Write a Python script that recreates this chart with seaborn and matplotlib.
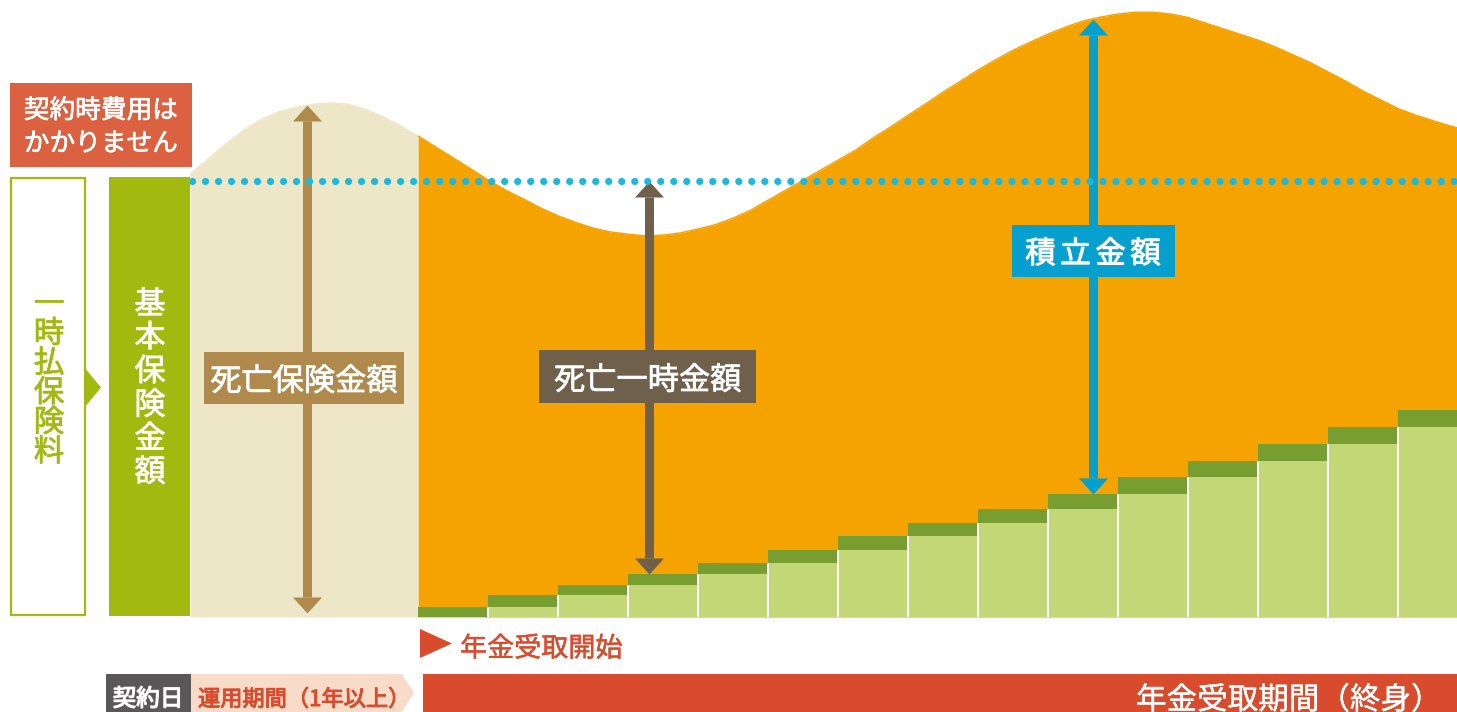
import numpy as np
import pandas as pd
import matplotlib
matplotlib.use("Agg")
import matplotlib.pyplot as plt
import matplotlib.patheffects as pe
from matplotlib.patches import Rectangle, Polygon
import seaborn as sns

# ---------------------------------------------------------------------------
# Values: amounts in % of the basic insured amount, time in years counted
# from the start of the annuity payments (negative = deferral period).
# ---------------------------------------------------------------------------
BASIC_AMOUNT = 100.0
CONTRACT_YEAR = -3.26
END_YEAR = 14.84

# death benefit during the deferral period
deferral_years = [-3.26, -3.0, -2.75, -2.5, -2.25, -2.0, -1.75, -1.5,
                  -1.25, -1.0, -0.75, -0.5, -0.25, 0.0]
deferral_value = [101.6, 105.0, 108.5, 111.6, 114.0, 115.8, 116.9, 117.6,
                  117.9, 117.6, 116.4, 114.7, 112.6, 110.2]

# accumulated reserve during the payout period
payout_years = [0.0, 0.25, 0.5, 0.75, 1.0, 1.25, 1.5, 1.75, 2.0, 2.25,
                2.5, 2.75, 3.0, 3.25, 3.5, 3.75, 4.0, 4.25, 4.5, 4.75,
                5.0, 5.25, 5.5, 5.75, 6.0, 6.25, 6.5, 6.75, 7.0, 7.25,
                7.5, 7.75, 8.0, 8.25, 8.5, 8.75, 9.0, 9.25, 9.5, 9.75,
                10.0, 10.25, 10.5, 10.75, 11.0, 11.25, 11.5, 11.75, 12.0,
                12.25, 12.5, 12.75, 13.0, 13.25, 13.5, 13.75, 14.0, 14.25,
                14.5, 14.75, 14.84]
payout_value = [110.3, 107.8, 105.3, 102.8, 100.2, 97.9, 95.9, 93.8, 92.0,
                90.5, 89.2, 88.3, 87.8, 87.4, 87.6, 88.1, 89.0, 90.0, 91.5,
                93.3, 95.6, 97.9, 100.2, 102.5, 104.8, 107.1, 109.9, 112.4,
                115.1, 117.7, 120.4, 122.9, 125.5, 127.8, 130.0, 131.9,
                133.7, 135.3, 136.7, 137.6, 138.3, 138.7, 138.7, 138.3,
                137.5, 136.2, 134.9, 133.6, 132.3, 130.7, 128.9, 127.1,
                125.0, 122.9, 120.6, 118.6, 116.6, 115.1, 113.8, 112.6,
                112.2]

# annuity received in total up to each payment year
annuity_year = list(range(15))
annuity_total = [2.3, 5.0, 7.3, 9.9, 12.4, 15.4, 18.6, 21.6, 24.8, 28.2,
                 32.1, 35.8, 39.7, 43.6, 47.5]

# where the three explanatory arrows stand
DEATH_BENEFIT_YEAR = -1.59
LUMP_SUM_YEAR, LUMP_SUM_BAR = 3.3, 3
RESERVE_YEAR, RESERVE_BAR = 9.64, 9

# colours
ORANGE = "#f4a300"
BEIGE = "#ede6c7"
DARK_GREEN = "#789d31"
LIGHT_GREEN = "#c4d776"
OLIVE = "#a2b90f"
CYAN = "#1cb9dc"
BLUE = "#05a0cd"
TAN = "#b08a4c"
BROWN = "#6f604b"
RED_BOX = "#dc6140"
RED = "#d84b2c"
GREY = "#595757"
PEACH = "#f9dbca"

# ---------------------------------------------------------------------------
sns.set_style("white")
plt.rcParams["font.family"] = ["Noto Sans CJK JP", "DejaVu Sans"]

W, H = 1457, 712
DPI = 100
fig = plt.figure(figsize=(W / DPI, H / DPI), dpi=DPI, facecolor="white")

# chart area: from the contract date to the right edge, baseline at y=617px
ax = fig.add_axes([190 / W, (H - 617) / H, (W - 190) / W, 617 / H])
ax.set_xlim(CONTRACT_YEAR, END_YEAR)
ax.set_ylim(0, 141.5)

ax.fill_between(deferral_years, 0, deferral_value, color=BEIGE, lw=0, zorder=1)
ax.fill_between(payout_years, 0, payout_value, color=ORANGE, lw=0, zorder=1)
sns.lineplot(x=deferral_years, y=deferral_value, color=BEIGE, lw=1, ax=ax, zorder=1)
sns.lineplot(x=payout_years, y=payout_value, color=ORANGE, lw=1, ax=ax, zorder=1)

bars = pd.DataFrame({"year": np.array(annuity_year) + 0.5,
                     "total": annuity_total})
bars["previous"] = bars["total"].shift(1).fillna(0.0)
sns.barplot(data=bars, x="year", y="total", native_scale=True, width=1,
            color=DARK_GREEN, saturation=1, errorbar=None, linewidth=0,
            ax=ax, zorder=2)
sns.barplot(data=bars, x="year", y="previous", native_scale=True, width=1,
            color=LIGHT_GREEN, saturation=1, errorbar=None, linewidth=0,
            ax=ax, zorder=3)
# thin white seams between the received-annuity columns
ax.vlines(bars["year"].iloc[1:] - 0.5, 0, bars["previous"].iloc[1:],
          color="white", lw=1.4, zorder=4)

ax.set_xlim(CONTRACT_YEAR, END_YEAR)
ax.set_ylim(0, 141.5)
ax.axis("off")

px_per_unit = ax.transData.transform((0, 1))[1] - ax.transData.transform((0, 0))[1]
HEAD_LEN_PX, HEAD_HALF_PX, SHAFT_PX = 16, 14.5, 9
head_up = [(-HEAD_HALF_PX, -HEAD_LEN_PX), (HEAD_HALF_PX, -HEAD_LEN_PX), (0, 0)]
head_dn = [(-HEAD_HALF_PX, HEAD_LEN_PX), (HEAD_HALF_PX, HEAD_LEN_PX), (0, 0)]
head_ms = 2 * HEAD_LEN_PX * 72 / DPI


def double_arrow(x, lo, hi, color):
    off = HEAD_LEN_PX / px_per_unit
    ax.plot([x, x], [lo + off, hi - off], color=color,
            lw=SHAFT_PX * 72 / DPI, solid_capstyle="butt", zorder=5)
    ax.plot([x], [hi], marker=head_up, ms=head_ms, mew=0, color=color,
            ls="none", zorder=5)
    ax.plot([x], [lo], marker=head_dn, ms=head_ms, mew=0, color=color,
            ls="none", zorder=5)


death_top = np.interp(DEATH_BENEFIT_YEAR, deferral_years, deferral_value)
reserve_top = np.interp(RESERVE_YEAR, payout_years, payout_value)
double_arrow(DEATH_BENEFIT_YEAR, 1.0, death_top, TAN)
double_arrow(LUMP_SUM_YEAR, annuity_total[LUMP_SUM_BAR], BASIC_AMOUNT, BROWN)
double_arrow(RESERVE_YEAR, annuity_total[RESERVE_BAR], reserve_top, BLUE)

# basic insured amount as a dotted line
ax.plot([CONTRACT_YEAR + 0.03, END_YEAR], [BASIC_AMOUNT, BASIC_AMOUNT],
        color=CYAN, lw=5.2, ls=(0, (0.001, 1.8)), dash_capstyle="round",
        zorder=6)

# ---------------------------------------------------------------------------
# overlay in pixel units for the boxes and labels around the chart
ov = fig.add_axes([0, 0, 1, 1], zorder=10)
ov.set_xlim(0, W)
ov.set_ylim(H, 0)
ov.axis("off")


def arrow_px(year):
    return ax.transData.transform((year, 0))[0]


def box(x0, y0, x1, y1, color, **kw):
    ov.add_patch(Rectangle((x0, y0), x1 - x0, y1 - y0, facecolor=color,
                           edgecolor="none", **kw))


def label(x, y, s, size, color, ha="center", stroke=0.5, **kw):
    # a thin stroke in the text colour gives a medium weight
    effects = [pe.withStroke(linewidth=stroke, foreground=color)] if stroke else []
    ov.text(x, y, s, fontsize=size, color=color, ha=ha, va="center_baseline",
            path_effects=effects, **kw)


def spaced(cx, cy, s, pitch, size, color, vertical=False, stroke=0.5):
    n = len(s)
    for i, ch in enumerate(s):
        off = (i - (n - 1) / 2) * pitch
        if vertical:
            label(cx, cy + off, ch, size, color, stroke=stroke)
        else:
            label(cx + off, cy, ch, size, color, stroke=stroke)


# labels sitting on the arrows
cx = arrow_px(DEATH_BENEFIT_YEAR) - 3
box(cx - 100, 352, cx + 100, 404, TAN)
label(cx, 378, "死亡保険金額", 22.5, "white")

cx = arrow_px(LUMP_SUM_YEAR) - 1.5
box(cx - 108.5, 350, cx + 108.5, 403, BROWN)
label(cx, 377, "死亡一時金額", 22.5, "white")

cx = arrow_px(RESERVE_YEAR)
box(cx - 81.5, 225, cx + 81.5, 277, BLUE)
spaced(cx, 251, "積立金額", 35, 22, "white", stroke=0.7)

# top-left note
box(10, 83, 192, 167, RED_BOX)
label(101, 108, "契約時費用は", 18.5, "white")
label(101, 141, "かかりません", 18.5, "white")

# single premium -> basic insured amount
ov.add_patch(Rectangle((11, 178), 74, 437, facecolor="white",
                       edgecolor=OLIVE, lw=1.6))
ov.add_patch(Polygon([(84, 367), (101, 387.5), (84, 408)], closed=True,
                     facecolor=OLIVE, edgecolor="none"))
spaced(49, 375, "一時払保険料", 29.6, 22, OLIVE, vertical=True, stroke=0.5)

box(109, 177, 190, 616, OLIVE)
spaced(150, 385, "基本保険金額", 33.6, 22.5, "white", vertical=True, stroke=0.5)

# start of payments
ov.add_patch(Polygon([(420, 629), (452, 643.5), (420, 658)], closed=True,
                     facecolor=RED, edgecolor="none"))
label(460, 646, "年金受取開始", 19.5, RED, ha="left", stroke=0.3)

# timeline strip along the bottom
box(106, 674, 191, 712, GREY)
label(148, 697, "契約日", 17, "white", stroke=0.9)
ov.add_patch(Polygon([(191, 674), (402, 674), (414, 693), (402, 712),
                      (191, 712)], closed=True, facecolor=PEACH,
                     edgecolor="none"))
label(198, 697, "運用期間（1年以上）", 16, RED, ha="left", stroke=0.7)
box(423, 674, W, 712, RED)
label(1441, 697, "年金受取期間（終身）", 22, "white", ha="right", stroke=0.3)

fig.savefig("out.png", dpi=DPI, facecolor="white")
